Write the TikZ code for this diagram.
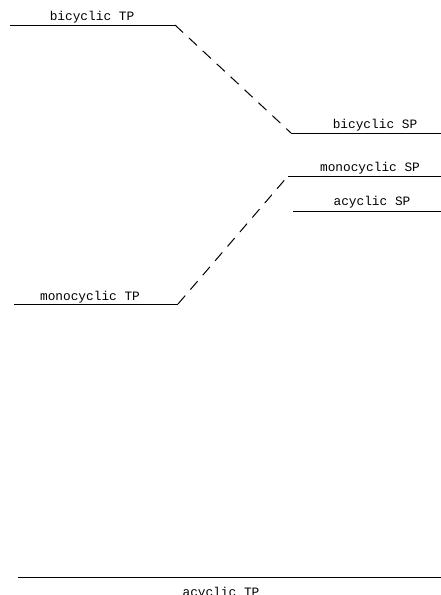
\documentclass[tikz,border=0pt]{standalone}
\usepackage{fontspec}
\setmonofont{Liberation Mono}
\begin{document}
\begin{tikzpicture}[x=1pt,y=-1pt,
  level/.style={line width=1pt},
  link/.style={line width=1pt, dash pattern=on 11pt off 8pt},
  lab/.style={anchor=base, inner sep=0pt, font=\ttfamily\fontsize{12.8}{14}\selectfont}]
\useasboundingbox (0,0) rectangle (441,595);
% level end points
\coordinate (btpL) at (10,25);  \coordinate (btpR) at (175,25);
\coordinate (bspL) at (291,133); \coordinate (bspR) at (441,133);
\coordinate (mspL) at (288,176); \coordinate (mspR) at (441,176);
\coordinate (aspL) at (293,211); \coordinate (aspR) at (441,211);
\coordinate (mtpL) at (14,304); \coordinate (mtpR) at (178,304);
\coordinate (atpL) at (18,577); \coordinate (atpR) at (441,577);
% levels
\draw[level] (btpL) -- (btpR);
\draw[level] (bspL) -- (bspR);
\draw[level] (mspL) -- (mspR);
\draw[level] (aspL) -- (aspR);
\draw[level] (mtpL) -- (mtpR);
\draw[level] (atpL) -- (atpR);
% connectors
\draw[link] (btpR) -- (bspL);
\draw[link] (mtpR) -- (mspL);
% labels
\node[lab] (btp) at (92,20) {bicyclic TP};
\node[lab] (bsp) at (375,128) {bicyclic SP};
\node[lab] (msp) at (370,171) {monocyclic SP};
\node[lab] (asp) at (372,205) {acyclic SP};
\node[lab] (mtp) at (90,300) {monocyclic TP};
\node[lab] (atp) at (221,596) {acyclic TP};
\end{tikzpicture}
\end{document}
